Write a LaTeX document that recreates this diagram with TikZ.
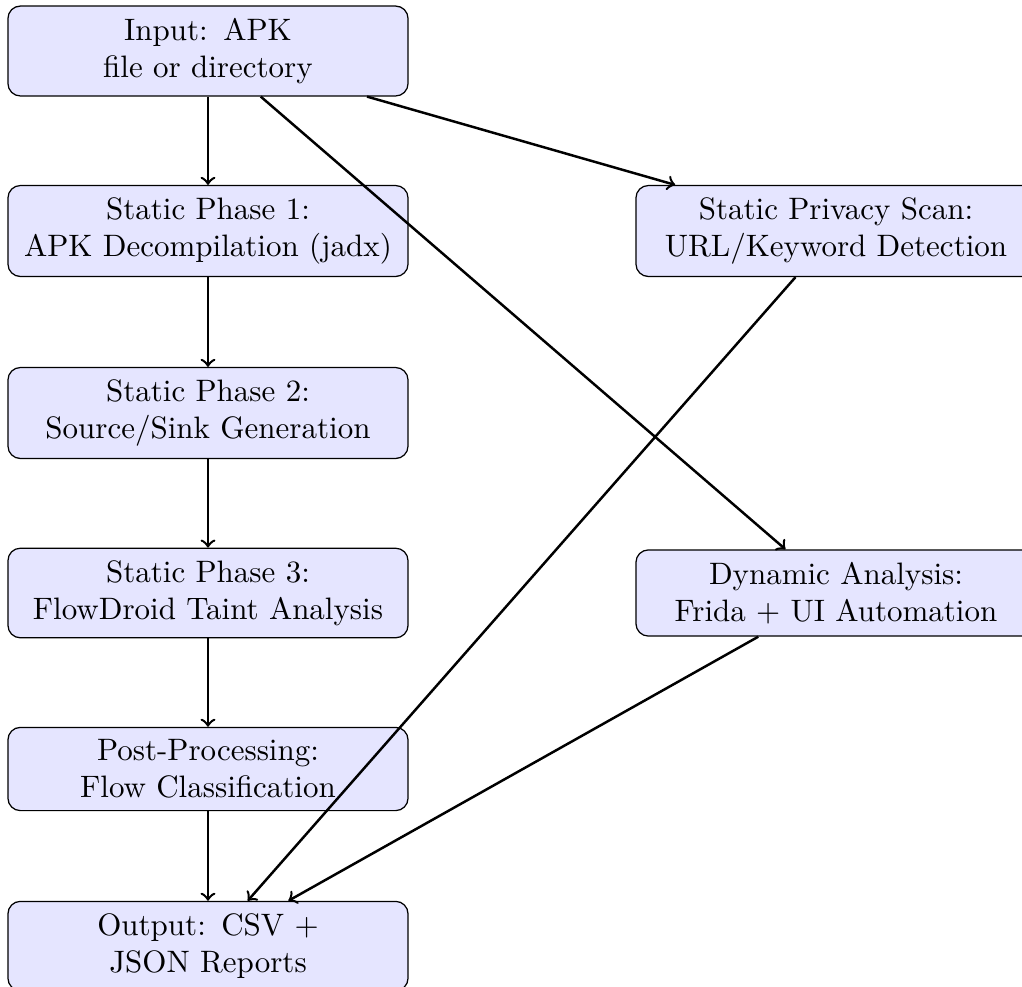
\documentclass[tikz,border=0pt]{standalone}
\begin{document}
\begin{tikzpicture}[x=0.3226pt,y=-0.3226pt,
  box/.style={draw=black, fill=blue!10, rounded corners=4pt, align=center,
              text width=122.4pt, inner xsep=3.333pt, inner ysep=3.9pt},
  conn/.style={->, thick}]
\useasboundingbox (0,0) rectangle (1022,986);
\node[box] (in)   at (208,51)  {Input: APK\\file or directory};
\node[box] (s1)   at (208,231) {Static Phase 1:\\APK Decompilation (jadx)};
\node[box] (s2)   at (208,413) {Static Phase 2:\\Source/Sink Generation};
\node[box] (s3)   at (208,593) {Static Phase 3:\\FlowDroid Taint Analysis};
\node[box] (post) at (208,769) {Post-Processing:\\Flow Classification};
\node[box] (out)  at (208,946) {Output: CSV +\\JSON Reports};
\node[box] (priv) at (836,231) {Static Privacy Scan:\\URL/Keyword Detection};
\node[box] (dyn)  at (836,593) {Dynamic Analysis:\\Frida + UI Automation};
\draw[conn] (in) -- (s1);
\draw[conn] (s1) -- (s2);
\draw[conn] (s2) -- (s3);
\draw[conn] (s3) -- (post);
\draw[conn] (post) -- (out);
\draw[conn] (in) -- (priv);
\draw[conn] (in) -- (dyn);
\draw[conn] (priv) -- (out);
\draw[conn] (dyn) -- (out);
\end{tikzpicture}
\end{document}
